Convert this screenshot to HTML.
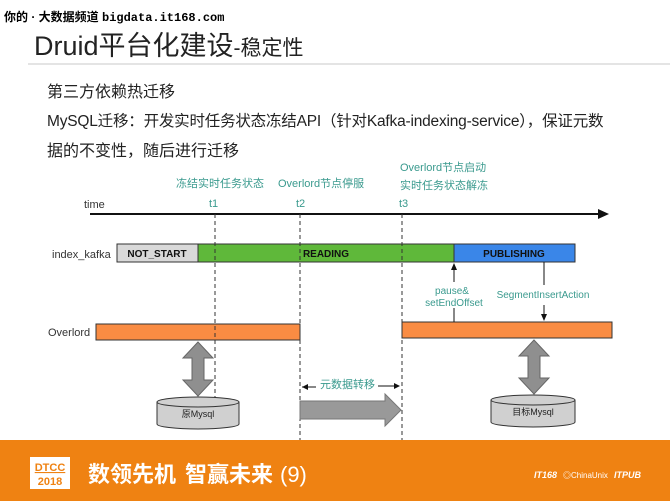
<!DOCTYPE html>
<html><head><meta charset="utf-8"><style>
body{margin:0;width:670px;height:501px;overflow:hidden;background:#fff;font-family:"Liberation Sans","Noto Sans CJK SC",sans-serif;position:relative}
.a{position:absolute;white-space:nowrap}
</style></head><body>
<div class="a" style="left:4px;top:8px;font-size:12px;font-weight:bold;color:#000">你的 · 大数据频道 <span style="font-family:'Liberation Mono',monospace">bigdata.it168.com</span></div>
<div class="a" style="left:34px;top:24px;font-size:27px;color:#222">Druid平台化建设<span style="font-size:21px">-稳定性</span></div>
<div class="a" style="left:28px;top:63px;width:642px;height:2px;background:#e4e4e4"></div>
<div class="a" style="left:47px;top:78px;font-size:16px;color:#222">第三方依赖热迁移</div>
<div class="a" style="left:47px;top:109px;font-size:15.5px;letter-spacing:-0.2px;color:#222">MySQL迁移：开发实时任务状态冻结API（针对Kafka-indexing-service），保证元数</div>
<div class="a" style="left:47px;top:137px;font-size:16px;color:#222">据的不变性，随后进行迁移</div>
<svg class="a" style="left:0;top:0" width="670" height="501" font-family="Liberation Sans,Noto Sans CJK SC,sans-serif">
<g fill="#3a9a8e" font-size="11">
<text x="176" y="187">冻结实时任务状态</text>
<text x="278" y="187">Overlord节点停服</text>
<text x="400" y="171">Overlord节点启动</text>
<text x="400" y="189">实时任务状态解冻</text>
<text x="209" y="207">t1</text><text x="296" y="207">t2</text><text x="399" y="207">t3</text>
<text x="452" y="294" text-anchor="middle" font-size="10">pause&amp;</text>
<text x="454" y="306" text-anchor="middle" font-size="10">setEndOffset</text>
<text x="543" y="298" text-anchor="middle" font-size="10">SegmentInsertAction</text>
<text x="320" y="388" font-size="11">元数据转移</text>
</g>
<text x="84" y="208" font-size="11" fill="#333">time</text>
<line x1="90" y1="214" x2="600" y2="214" stroke="#111" stroke-width="2"/>
<polygon points="598,209 609,214 598,219" fill="#111"/>
<text x="52" y="258" font-size="11" fill="#333">index_kafka</text>
<rect x="117" y="244" width="81" height="18" fill="#d9d9d9" stroke="#333"/>
<rect x="198" y="244" width="256" height="18" fill="#5fb83a" stroke="#333"/>
<rect x="454" y="244" width="121" height="18" fill="#3a86e8" stroke="#333"/>
<g font-size="10" font-weight="bold" fill="#111" text-anchor="middle">
<text x="157" y="257">NOT_START</text><text x="326" y="257">READING</text><text x="514" y="257">PUBLISHING</text></g>
<text x="48" y="336" font-size="11" fill="#333">Overlord</text>
<rect x="96" y="324" width="204" height="16" fill="#f98c43" stroke="#333"/>
<rect x="402" y="322" width="210" height="16" fill="#f98c43" stroke="#333"/>
<g stroke="#333" stroke-dasharray="4,3"><line x1="215" y1="214" x2="215" y2="420"/><line x1="300" y1="214" x2="300" y2="440"/><line x1="402" y1="214" x2="402" y2="440"/></g>
<line x1="454" y1="265" x2="454" y2="282" stroke="#111"/><polygon points="451,270 454,263 457,270" fill="#111"/>
<line x1="454" y1="308" x2="454" y2="322" stroke="#111"/>
<line x1="544" y1="262" x2="544" y2="285" stroke="#111"/>
<line x1="544" y1="305" x2="544" y2="318" stroke="#111"/><polygon points="541,314 544,321 547,314" fill="#111"/>
<polygon points="198,342 183,358 192,358 192,380 183,380 198,396 213,380 204,380 204,358 213,358" fill="#8f8f8f" stroke="#666"/>
<polygon points="534,340 519,356 528,356 528,378 519,378 534,394 549,378 540,378 540,356 549,356" fill="#8f8f8f" stroke="#666"/>
<polygon points="300,401 385,401 385,394 401,410 385,426 385,419 300,419" fill="#999" stroke="#777"/>
<line x1="302" y1="387" x2="316" y2="387" stroke="#111"/><polygon points="302,384 308,387 302,390" fill="#111" transform="rotate(180 305 387)"/>
<line x1="378" y1="386" x2="399" y2="386" stroke="#111"/><polygon points="394,383 400,386 394,389" fill="#111"/>
<g fill="#d0d0d0" stroke="#333">
<path d="M157,402 v22 a41,5 0 0 0 82,0 v-22"/><ellipse cx="198" cy="402" rx="41" ry="5"/>
<path d="M491,400 v22 a42,5 0 0 0 84,0 v-22"/><ellipse cx="533" cy="400" rx="42" ry="5"/></g>
<text x="198" y="417" font-size="9" text-anchor="middle" fill="#222">原Mysql</text>
<text x="533" y="415" font-size="9" text-anchor="middle" fill="#222">目标Mysql</text>
<rect x="0" y="440" width="670" height="61" fill="#ef8212"/>
<rect x="30" y="457" width="40" height="32" fill="#fff"/>
<text x="50" y="471" font-size="11" font-weight="bold" fill="#ef8212" text-anchor="middle" text-decoration="underline">DTCC</text>
<text x="50" y="485" font-size="11" font-weight="bold" fill="#ef8212" text-anchor="middle">2018</text>
<text x="88" y="482" font-size="22" font-weight="bold" fill="#fff">数领先机</text>
<text x="185" y="482" font-size="22" font-weight="bold" fill="#fff">智赢未来</text>
<text x="280" y="482" font-size="22" fill="#fff">(9)</text>
<text x="534" y="478" font-size="9" font-weight="bold" fill="#fff" font-style="italic">IT168</text>
<text x="563" y="478" font-size="8" fill="#fff">◎ChinaUnix</text>
<text x="614" y="478" font-size="9" font-weight="bold" fill="#fff" font-style="italic">ITPUB</text>
</svg>
</body></html>
